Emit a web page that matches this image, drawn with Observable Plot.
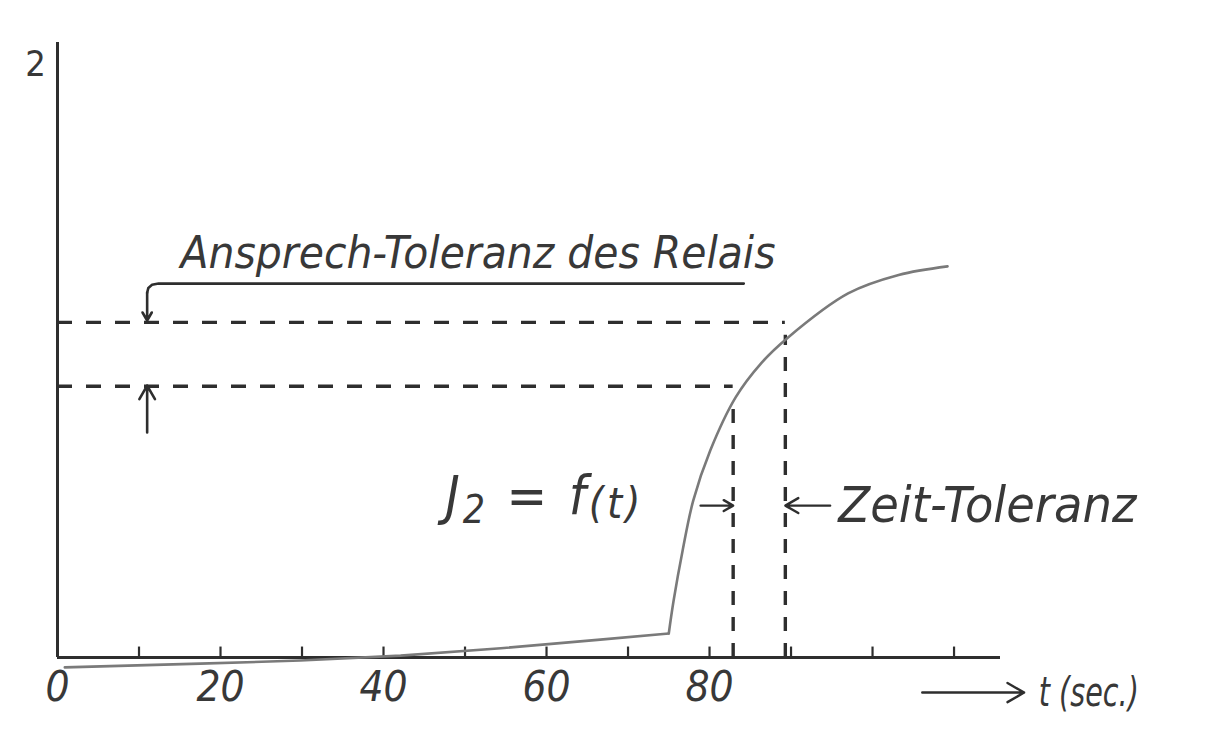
<!DOCTYPE html>
<html>
<head>
<meta charset="utf-8">
<script src="https://cdn.jsdelivr.net/npm/d3@7"></script>
<script src="https://cdn.jsdelivr.net/npm/@observablehq/plot@0.6"></script>
<style>
  html, body { margin: 0; padding: 0; background: #fff; }
</style>
</head>
<body>
<div id="chart"></div>
<script>
// Relay current J2 as a function of time t (sec.), with the pick-up tolerance
// of the relay and the resulting time tolerance.

// Slow creep before the jump (t in sec., J in arbitrary units)
const baseT = [0.9, 17.5, 29.8, 42.1, 54.4, 66.6, 75.0];
const baseJ = [-1.6, -1.0, -0.5, 0.3, 1.5, 2.9, 3.9];

// Steep rise after t ≈ 75 s
const riseT = [75.0, 75.6, 76.7, 78.0, 80.1, 83.2, 86.3, 89.6, 97.0, 103.2, 109.2];
const riseJ = [3.9, 9.3, 17.4, 25.5, 33.7, 42.3, 47.8, 52.0, 59.2, 62.2, 63.6];

// Pick-up tolerance band of the relay (lower / upper threshold)
const tolJ = [44.1, 54.5];
// Times at which the curve crosses the thresholds, and the curve value there
const tolT = [82.9, 89.3];
const tolCurveJ = [42.1, 52.4];

// Axis ticks
const minorTicks = [10, 20, 30, 40, 50, 60, 70, 80, 90, 100, 110];
const tickLabels = [0, 20, 40, 60, 80];
const xMax = 115.7;
const yMax = 100;

const ink = "#2e2e2e";
const textInk = "#383838";
const curveInk = "#7a7a7a";
const font = "'DejaVu Sans Condensed', 'DejaVu Sans', sans-serif";

const baseData = baseT.map((t, i) => ({t, j: baseJ[i]}));
const riseData = riseT.map((t, i) => ({t, j: riseJ[i]}));
const horiz = tolJ.map((j, i) => ({j, t: tolT[i]}));
const vert = tolT.map((t, i) => ({t, top: tolCurveJ[i]}));

// Bracket above the band: leader line ending in a downward arrow at the upper threshold
const bracket = [
  {t: 84.2, j: 60.8}, {t: 12.4, j: 60.8}, {t: 11.6, j: 60.6},
  {t: 11.15, j: 60.1}, {t: 11.0, j: 59.3}
];

const labelStyle = {textAnchor: "start", lineAnchor: "bottom", fontFamily: font, fontStyle: "oblique", fill: textInk};

const chart = Plot.plot({
  width: 1213,
  height: 738,
  marginLeft: 57,
  marginRight: 213,
  marginTop: 42,
  marginBottom: 81,
  x: {domain: [0, xMax]},
  y: {domain: [0, yMax], axis: null},
  style: {background: "#fff", overflow: "visible"},
  marks: [
    // axes
    Plot.ruleY([0], {x1: 0, x2: xMax, stroke: ink, strokeWidth: 3}),
    Plot.ruleX([0], {y1: 0, y2: yMax, stroke: ink, strokeWidth: 3}),
    Plot.ruleX(minorTicks, {x: d => d, y1: 0, y2: 1.7, stroke: ink, strokeWidth: 2.2}),
    Plot.axisX({
      ticks: tickLabels, tickSize: 0, tickPadding: 14, tickFormat: d => String(d),
      fontSize: 42, fontFamily: font, fontStyle: "oblique", fill: textInk
    }),

    // tolerance lines
    Plot.ruleY(horiz, {y: "j", x1: 0, x2: "t", stroke: ink, strokeWidth: 3.4, strokeDasharray: "15,14"}),
    Plot.ruleX(vert, {x: "t", y1: 0, y2: "top", stroke: ink, strokeWidth: 3.4, strokeDasharray: "14,12"}),

    // the current curve
    Plot.line(baseData, {x: "t", y: "j", stroke: curveInk, strokeWidth: 2.6}),
    Plot.line(riseData, {x: "t", y: "j", stroke: curveInk, strokeWidth: 2.6, curve: "catmull-rom"}),

    // tolerance bracket and arrows
    Plot.line(bracket, {x: "t", y: "j", stroke: ink, strokeWidth: 2.6}),
    Plot.arrow([{x1: 11.0, y1: 59.3, x2: 11.0, y2: 54.8}], {x1: "x1", y1: "y1", x2: "x2", y2: "y2", stroke: ink, strokeWidth: 2.6, headLength: 12}),
    Plot.arrow([{x1: 11.0, y1: 36.6, x2: 11.0, y2: 44.2}], {x1: "x1", y1: "y1", x2: "x2", y2: "y2", stroke: ink, strokeWidth: 2.6, headLength: 12}),
    Plot.arrow([{x1: 78.9, y1: 24.7, x2: tolT[0], y2: 24.7}], {x1: "x1", y1: "y1", x2: "x2", y2: "y2", stroke: ink, strokeWidth: 2.4, headLength: 11}),
    Plot.arrow([{x1: 94.8, y1: 24.7, x2: tolT[1], y2: 24.7}], {x1: "x1", y1: "y1", x2: "x2", y2: "y2", stroke: ink, strokeWidth: 2.4, headLength: 11}),
    Plot.arrow([{x1: 106.1, y1: -5.7, x2: 118.6, y2: -5.7}], {x1: "x1", y1: "y1", x2: "x2", y2: "y2", stroke: ink, strokeWidth: 2.4, headLength: 12}),

    // labels
    Plot.text(["Ansprech-Toleranz des Relais"], {...labelStyle, x: 15.1, y: 63.3, text: d => d, fontSize: 45, className: "lbl-band"}),
    Plot.text(["J2 = f(t)"], {...labelStyle, x: 47.6, y: 23.3, text: d => d, fontSize: 54, className: "lbl-fn"}),
    Plot.text(["Zeit-Toleranz"], {...labelStyle, x: 95.8, y: 22.0, text: d => d, fontSize: 50, className: "lbl-time"}),
    Plot.text(["t (sec.)"], {...labelStyle, x: 120.4, y: -7.9, text: d => d, fontSize: 40, className: "lbl-sec"}),
    Plot.text(["2"], {x: -2.7, y: 94.6, text: d => d, textAnchor: "middle", lineAnchor: "bottom", fontSize: 36, fontFamily: font, fill: textInk})
  ]
});

// Fit the narrow drafting lettering to its line lengths
const root = d3.select(chart);
const fit = (cls, len, adjust = "spacingAndGlyphs") => root.select(`g.${cls} text`)
  .attr("textLength", len).attr("lengthAdjust", adjust);
fit("lbl-band", 595);
fit("lbl-time", 298);
fit("lbl-sec", 100);

// J2 = f(t): subscript 2 and a smaller, lowered argument
const fn = root.select("g.lbl-fn text");
fn.text(null);
fn.append("tspan").text("J");
fn.append("tspan").attr("dy", "0.22em").attr("font-size", "0.72em").text("2");
fn.append("tspan").attr("dy", "-0.16em").text(" = f");
fn.append("tspan").attr("dy", "0.08em").attr("font-size", "0.8em").text("(t)");
fit("lbl-fn", 195, "spacing");

document.getElementById("chart").appendChild(chart);
</script>
</body>
</html>
